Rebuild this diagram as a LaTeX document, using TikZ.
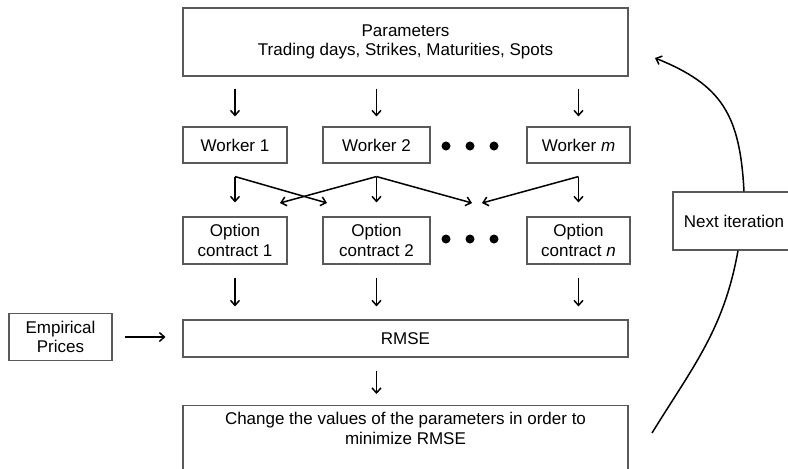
\documentclass[tikz,border=0pt]{standalone}
\usepackage{fontspec}
\setmainfont{Liberation Sans}
\usetikzlibrary{arrows.meta}
\begin{document}
\begin{tikzpicture}[x=1pt,y=-1pt,
  box/.style={draw=black!65,line width=1.1pt,align=center,inner sep=0pt,font=\fontsize{17}{19.5}\selectfont},
  arr/.style={line width=1.5pt,-{Straight Barb[length=5pt,width=9pt,line width=1.5pt]}},
  dot/.style={circle,fill=black,inner sep=0pt,minimum size=9pt}]
\clip (0,0) rectangle (788,469);

\node[box,minimum width=445,minimum height=68] (params) at (405.5,42) {Parameters\\Trading days, Strikes, Maturities, Spots};

\node[box,minimum width=104,minimum height=36] (w1) at (235,145) {Worker 1};
\node[box,minimum width=107,minimum height=36] (w2) at (376.5,145) {Worker 2};
\node[box,minimum width=103,minimum height=36] (wm) at (578.5,145) {Worker \textit{m}};
\node[dot] (d1) at (446,146) {};
\node[dot] (d2) at (470,146) {};
\node[dot] (d3) at (494,146) {};

\node[box,minimum width=104,minimum height=47] (o1) at (235,240.5) {Option\\contract 1};
\node[box,minimum width=107,minimum height=47] (o2) at (376.5,240.5) {Option\\contract 2};
\node[box,minimum width=103,minimum height=47] (on) at (578.5,240.5) {Option\\contract \textit{n}};
\node[dot] (e1) at (446,239) {};
\node[dot] (e2) at (470,239) {};
\node[dot] (e3) at (494,239) {};

\node[box,minimum width=445,minimum height=37] (rmse) at (405.5,338.5) {RMSE};
\node[box,minimum width=103,minimum height=47] (emp) at (60.5,337) {Empirical\\Prices};
\node[box,minimum width=445,anchor=north,inner ysep=7pt] (change) at (405.5,405) {Change the values of the parameters in order to\\minimize RMSE\\\rule{0pt}{40pt}};
\node[box,minimum width=122,minimum height=58] (next) at (734,221) {Next iteration};

\draw[arr,shorten <=12pt,shorten >=10pt] (params.south -| w1.north) -- (w1.north);
\draw[arr,shorten <=12pt,shorten >=10pt] (params.south -| w2.north) -- (w2.north);
\draw[arr,shorten <=12pt,shorten >=10pt] (params.south -| wm.north) -- (wm.north);

\coordinate (w1b) at ([yshift=-13pt]w1.south);
\coordinate (w2b) at ([yshift=-13pt]w2.south);
\coordinate (wmb) at ([yshift=-13pt]wm.south);
\coordinate (x1) at (327,203);
\coordinate (x2) at (280,203);
\coordinate (x3) at (472,203);
\coordinate (x4) at (482,203);
\draw[arr,shorten >=14pt] (w1b) -- (w1b |- o1.north);
\draw[arr] (w1b) -- (x1);
\draw[arr,shorten >=14pt] (w2b) -- (w2b |- o2.north);
\draw[arr] (w2b) -- (x2);
\draw[arr] (w2b) -- (x3);
\draw[arr,shorten >=14pt] (wmb) -- (wmb |- on.north);
\draw[arr] (wmb) -- (x4);

\draw[arr,shorten <=13pt,shorten >=13pt] (o1.south) -- (o1.south |- rmse.north);
\draw[arr,shorten <=13pt,shorten >=13pt] (o2.south) -- (o2.south |- rmse.north);
\draw[arr,shorten <=13pt,shorten >=13pt] (on.south) -- (on.south |- rmse.north);
\draw[arr,shorten <=12pt,shorten >=17pt] (emp.east) -- (emp.east -| rmse.west);
\draw[arr,shorten <=13pt,shorten >=11pt] (rmse.south -| o2.south) -- (change.north -| o2.south);

\coordinate (back) at (652,433);
\coordinate (top) at (655,58);
\draw[line width=1.5pt] (back) .. controls (694,365) and (724,329) .. ([xshift=4pt]next.south);
\draw[arr] ([xshift=10pt]next.north) .. controls (740,115) and (722,85) .. (top);
\end{tikzpicture}
\end{document}
